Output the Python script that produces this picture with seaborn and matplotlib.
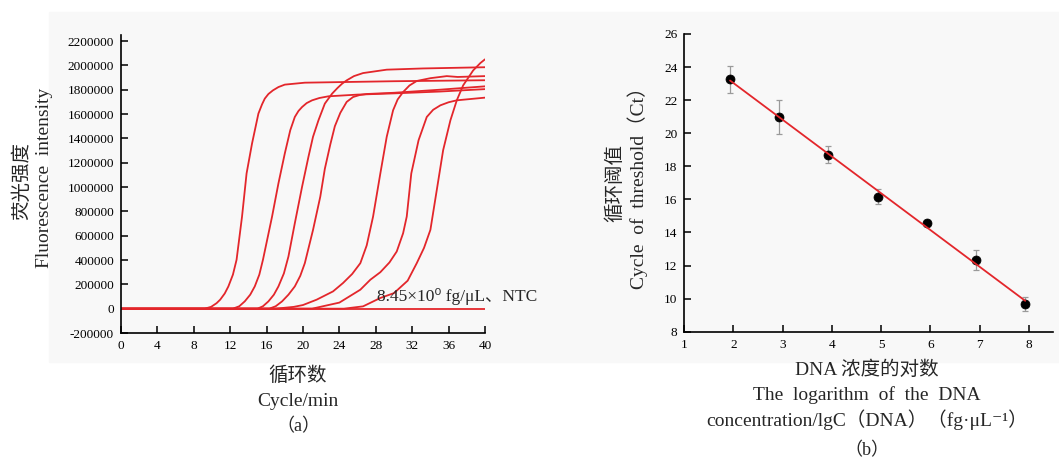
import numpy as np
import pandas as pd
import seaborn as sns
import matplotlib.pyplot as plt
from matplotlib.patches import Rectangle

# ---- (a) amplification curves (cycle, fluorescence) ----
cyc_a = [0, 9.2, 9.9, 10.5, 10.9, 11.4, 11.8, 12.3, 12.7, 13.3, 13.8, 14.4, 15.1, 15.5, 15.8, 16.2, 16.7, 17.3, 18.0, 20.2, 30, 40]
flu_a = [0, 0, 15e3, 45e3, 74e3, 125e3, 183e3, 280e3, 402e3, 757e3, 1112e3, 1358e3, 1604e3, 1680e3, 1727e3, 1765e3, 1795e3, 1822e3, 1842e3, 1858e3, 1870e3, 1878e3]

cyc_b = [0, 12.3, 13.0, 13.6, 14.2, 14.7, 15.2, 15.6, 16.6, 17.3, 18.0, 18.6, 19.1, 19.5, 19.9, 20.4, 21.0, 21.8, 22.8, 26, 30, 35, 40]
flu_b = [0, 0, 20e3, 60e3, 115e3, 183e3, 280e3, 402e3, 757e3, 1030e3, 1276e3, 1467e3, 1576e3, 1625e3, 1658e3, 1690e3, 1713e3, 1732e3, 1746e3, 1760e3, 1770e3, 1785e3, 1805e3]

cyc_c = [0, 15.0, 15.6, 16.2, 16.8, 17.3, 17.9, 18.4, 19.1, 19.9, 20.6, 21.1, 21.7, 22.4, 23.2, 23.8, 24.3, 24.8, 25.6, 26.6, 29.2, 33.2, 40]
flu_c = [0, 0, 20e3, 60e3, 115e3, 183e3, 290e3, 429e3, 702e3, 1003e3, 1249e3, 1413e3, 1549e3, 1686e3, 1768e3, 1815e3, 1850e3, 1877e3, 1912e3, 1937e3, 1965e3, 1975e3, 1985e3]

cyc_d = [0, 16.3, 17.0, 17.7, 18.4, 19.1, 19.7, 20.2, 21.1, 21.9, 22.4, 23.0, 23.5, 24.1, 24.8, 25.5, 26.2, 27, 30, 35, 40]
flu_d = [0, 0, 20e3, 60e3, 115e3, 183e3, 270e3, 374e3, 647e3, 921e3, 1150e3, 1350e3, 1500e3, 1610e3, 1700e3, 1740e3, 1756e3, 1765e3, 1775e3, 1800e3, 1828e3]

cyc_e = [0, 17, 19, 20, 21.5, 23.3, 24.4, 25.4, 26.3, 27.0, 27.7, 28.5, 29.2, 29.9, 30.4, 31.0, 31.7, 32.5, 34, 35.8, 37, 40]
flu_e = [0, 0, 15e3, 30e3, 74e3, 142e3, 211e3, 285e3, 374e3, 520e3, 757e3, 1112e3, 1413e3, 1631e3, 1720e3, 1781e3, 1835e3, 1872e3, 1895e3, 1912e3, 1905e3, 1912e3]

cyc_f = [0, 21, 24, 26.3, 27.4, 28.5, 29.5, 30.3, 31.0, 31.4, 31.9, 32.7, 33.6, 34.3, 35.1, 36.0, 36.9, 40]
flu_f = [0, 0, 50e3, 156e3, 238e3, 300e3, 380e3, 470e3, 620e3, 757e3, 1112e3, 1385e3, 1576e3, 1635e3, 1672e3, 1697e3, 1713e3, 1735e3]

cyc_g = [0, 24.5, 26.6, 28.5, 30, 31.5, 32.5, 33.3, 34.0, 34.7, 35.4, 36.2, 36.9, 37.6, 38.7, 39.5, 40]
flu_g = [0, 0, 19e3, 88e3, 128e3, 230e3, 374e3, 500e3, 648e3, 975e3, 1303e3, 1549e3, 1713e3, 1836e3, 1959e3, 2020e3, 2050e3]

cyc_ntc = [0, 40]
flu_ntc = [0, 0]

# ---- (b) standard curve ----
log_conc = [1.93, 2.93, 3.93, 4.93, 5.93, 6.93, 7.93]
ct_mean = [23.26, 20.98, 18.70, 16.16, 14.57, 12.35, 9.67]
ct_err = [0.80, 1.05, 0.50, 0.45, 0.20, 0.62, 0.43]

W, H = 1059, 458
RED = '#e3262b'
SERIF = ['Liberation Serif', 'Noto Sans CJK SC', 'DejaVu Sans']
CJK = ['Noto Sans CJK SC', 'Liberation Serif', 'DejaVu Sans']

sns.set_style('ticks')
plt.rcParams['font.family'] = SERIF
plt.rcParams['axes.unicode_minus'] = False


def fx(px):
    return px / W


def fy(py):
    return 1 - py / H


fig = plt.figure(figsize=(W / 100, H / 100), dpi=100)
fig.patch.set_facecolor('white')
fig.patches.append(Rectangle((fx(49), fy(362)), fx(1059) - fx(49), fy(12) - fy(362),
                             transform=fig.transFigure, color='#f8f8f8', zorder=-5))

ax1 = fig.add_axes([fx(121), fy(333), fx(485) - fx(121), fy(35) - fy(333)])
ax2 = fig.add_axes([fx(684.3), fy(331.7), fx(1053.3) - fx(684.3), fy(34) - fy(331.7)])

curves = [(cyc_a, flu_a), (cyc_b, flu_b), (cyc_c, flu_c), (cyc_d, flu_d),
          (cyc_e, flu_e), (cyc_f, flu_f), (cyc_g, flu_g), (cyc_ntc, flu_ntc)]
for cx, cy in curves:
    sns.lineplot(x=cx, y=cy, ax=ax1, color=RED, lw=1.3, estimator=None, sort=False)

ax1.set_xlim(0, 40)
ax1.set_ylim(-200000, 2250000)
ax1.set_xticks(np.arange(0, 41, 4))
ax1.set_yticks(np.arange(-200000, 2200001, 200000))
ax1.set_yticklabels([f'{v:d}' for v in np.arange(-200000, 2200001, 200000)])
ax1.text(28.1, 100000, '8.45×10⁰ fg/μL、NTC', fontsize=12.5, ha='left', va='center',
         family=SERIF)

# standard curve panel
ax2.errorbar(log_conc, ct_mean, yerr=ct_err, fmt='none', ecolor='#9a9a9a',
             elinewidth=0.9, capsize=2.5, capthick=0.9, zorder=2)
sns.scatterplot(x=log_conc, y=ct_mean, ax=ax2, color='black', s=42,
                edgecolor='black', zorder=3)
sns.regplot(x=np.array(log_conc), y=np.array(ct_mean), ax=ax2, scatter=False, ci=None,
            color=RED, line_kws={'lw': 1.3, 'zorder': 4})
ax2.set_xlim(1, 8.5)
ax2.set_ylim(8, 26)
ax2.set_xticks(range(1, 9))
ax2.set_yticks(range(8, 27, 2))

for ax in (ax1, ax2):
    ax.set_facecolor('none')
    ax.set_zorder(2)
    ax.set_xlabel('')
    ax.set_ylabel('')
    sns.despine(ax=ax)
    for s in ('left', 'bottom'):
        ax.spines[s].set_linewidth(1.2)
        ax.spines[s].set_color('black')
    ax.tick_params(direction='in', length=5, width=1.1, labelsize=9.5, pad=5, colors='black')

# axis titles
fig.text(fx(21.7), fy(181), '荧光强度', rotation=90, ha='center', va='center',
         fontsize=14, family=CJK)
fig.text(fx(45), fy(178), 'Fluorescence  intensity', rotation=90, ha='center',
         va='center', fontsize=14, family=SERIF)
fig.text(fx(298), fy(375), '循环数', ha='center', va='center', fontsize=14, family=CJK)
fig.text(fx(298), fy(401.7), 'Cycle/min', ha='center', va='center', fontsize=14, family=SERIF)
fig.text(fx(298), fy(426.7), '（a）', ha='center', va='center', fontsize=13, family=SERIF)

fig.text(fx(615), fy(183), '循环阈值', rotation=90, ha='center', va='center',
         fontsize=14, family=CJK)
fig.text(fx(638), fy(183), 'Cycle  of  threshold（Ct）', rotation=90, ha='center',
         va='center', fontsize=14, family=SERIF)
fig.text(fx(867), fy(370), 'DNA 浓度的对数', ha='center', va='center', fontsize=14, family=SERIF)
fig.text(fx(867), fy(395), 'The  logarithm  of  the  DNA', ha='center', va='center',
         fontsize=14, family=SERIF)
fig.text(fx(867), fy(420), 'concentration/lgC（DNA）（fg·μL⁻¹）', ha='center', va='center',
         fontsize=14, family=SERIF)
fig.text(fx(867), fy(451), '（b）', ha='center', va='center', fontsize=13, family=SERIF)

fig.savefig('out.png', dpi=100, facecolor='white')
